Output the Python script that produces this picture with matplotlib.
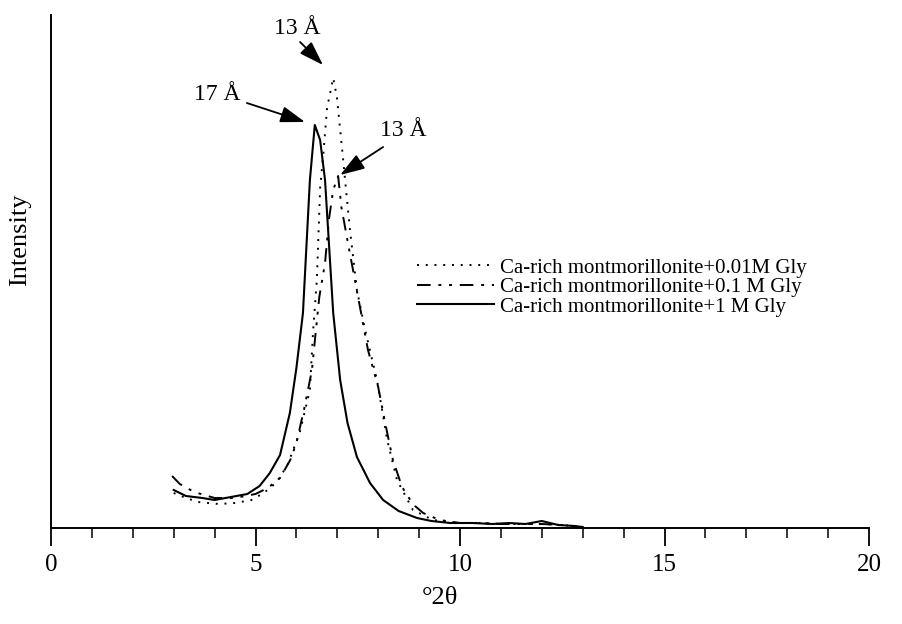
import matplotlib
matplotlib.use("Agg")
from matplotlib import pyplot as plt
from matplotlib.ticker import MultipleLocator

plt.rcParams["font.family"] = ["Liberation Serif", "DejaVu Serif"]

# Ca-rich montmorillonite + 0.01M Gly (dotted)
x_001 = [3.0, 3.3, 3.6, 4.1, 4.5, 4.9, 5.2, 5.5, 5.77, 6.08, 6.33, 6.41, 6.5, 6.58,
         6.66, 6.75, 6.9, 6.99, 7.12, 7.19, 7.31, 7.48, 7.68, 7.97, 8.22, 8.46, 8.85,
         9.34, 10.0, 10.5, 11.0, 11.5, 12.0, 12.5, 13.0]
i_001 = [35, 30, 26, 24, 25, 28, 35, 45, 62, 95, 138, 198, 248, 340,
         375, 420, 450, 431, 378, 348, 298, 238, 198, 148, 88, 48, 18,
         8, 5, 5, 4, 4, 4, 3, 1]

# Ca-rich montmorillonite + 0.1 M Gly (dash-dot)
x_01 = [2.96, 3.15, 3.5, 4.0, 4.5, 5.0, 5.3, 5.6, 5.85, 6.0, 6.2, 6.38, 6.47, 6.56,
        6.7, 6.8, 6.9, 7.02, 7.1, 7.26, 7.43, 7.6, 7.75, 8.0, 8.17, 8.36, 8.55, 8.66,
        8.9, 9.1, 9.5, 10.0, 10.5, 11.0, 11.5, 12.0, 12.5, 13.0]
i_01 = [52, 44, 36, 30, 30, 34, 40, 50, 68, 85, 121, 158, 195, 231,
        265, 310, 338, 352, 321, 285, 248, 211, 178, 141, 105, 68, 45, 35,
        22, 15, 8, 5, 5, 4, 4, 4, 3, 1]

# Ca-rich montmorillonite + 1 M Gly (solid)
x_1 = [3.0, 3.3, 3.7, 4.0, 4.4, 4.8, 5.1, 5.35, 5.6, 5.84, 6.0, 6.16, 6.33, 6.45,
       6.58, 6.7, 6.9, 7.07, 7.25, 7.48, 7.8, 8.12, 8.5, 8.95, 9.3, 9.76, 10.3,
       10.8, 11.2, 11.6, 12.0, 12.4, 12.8, 13.0]
i_1 = [38, 32, 30, 28, 31, 34, 42, 55, 73, 115, 160, 215, 348, 403,
       388, 348, 215, 148, 105, 71, 45, 28, 17, 10, 7, 5, 5,
       4, 5, 4, 7, 3, 2, 1]

labels = ["Ca-rich montmorillonite+0.01M Gly",
          "Ca-rich montmorillonite+0.1 M Gly",
          "Ca-rich montmorillonite+1 M Gly"]

# peak annotations: (text, text position, arrow start, arrow tip)
notes = [("13 Å", (6.01, 500), (6.09, 486), (6.65, 463)),
         ("17 Å", (4.06, 434), (4.79, 425), (6.21, 406)),
         ("13 Å", (8.61, 398), (8.12, 381), (7.07, 353))]

fig = plt.figure(figsize=(9.02, 6.24), dpi=100)
ax = fig.add_axes([51 / 902, 1 - 528 / 624, 818 / 902, 513 / 624])

ax.plot(x_001, i_001, color="black", linestyle=(0, (1, 3.5)), linewidth=1.4, label=labels[0])
ax.plot(x_01, i_01, color="black", linestyle=(0, (7, 4, 1.5, 4, 1.5, 4)), linewidth=1.4, label=labels[1])
ax.plot(x_1, i_1, color="black", linestyle="-", linewidth=1.5, label=labels[2])

for text, tpos, start, tip in notes:
    ax.text(*tpos, text, ha="center", va="center", fontsize=17)
    ax.annotate("", xy=tip, xytext=start,
                arrowprops=dict(arrowstyle="-|>,head_length=0.75,head_width=0.25",
                                color="black", lw=1.3, mutation_scale=20,
                                shrinkA=0, shrinkB=0))

ax.set_xlim(0, 20)
ax.set_ylim(0, 513)
ax.xaxis.set_major_locator(MultipleLocator(5))
ax.xaxis.set_minor_locator(MultipleLocator(1))
ax.tick_params(axis="x", which="major", length=13, width=1.3, direction="out",
               labelsize=18, pad=6)
ax.tick_params(axis="x", which="minor", length=7, width=1.1, direction="out")
ax.set_yticks([])
for side in ["top", "right"]:
    ax.spines[side].set_visible(False)
for side in ["left", "bottom"]:
    ax.spines[side].set_linewidth(1.4)

fig.text(20 / 902, 1 - 240 / 624, "Intensity", rotation=90, ha="center", va="center", fontsize=19)
fig.text(440 / 902, 1 - 598 / 624, "°2θ", ha="center", va="center", fontsize=19)

ax.legend(loc="upper left", bbox_to_anchor=((417 - 51) / 818, (528 - 258) / 513),
          frameon=False, fontsize=15, handlelength=3.7, handletextpad=0.3,
          labelspacing=0.0, borderpad=0, borderaxespad=0)

fig.savefig("out.png", dpi=100)
